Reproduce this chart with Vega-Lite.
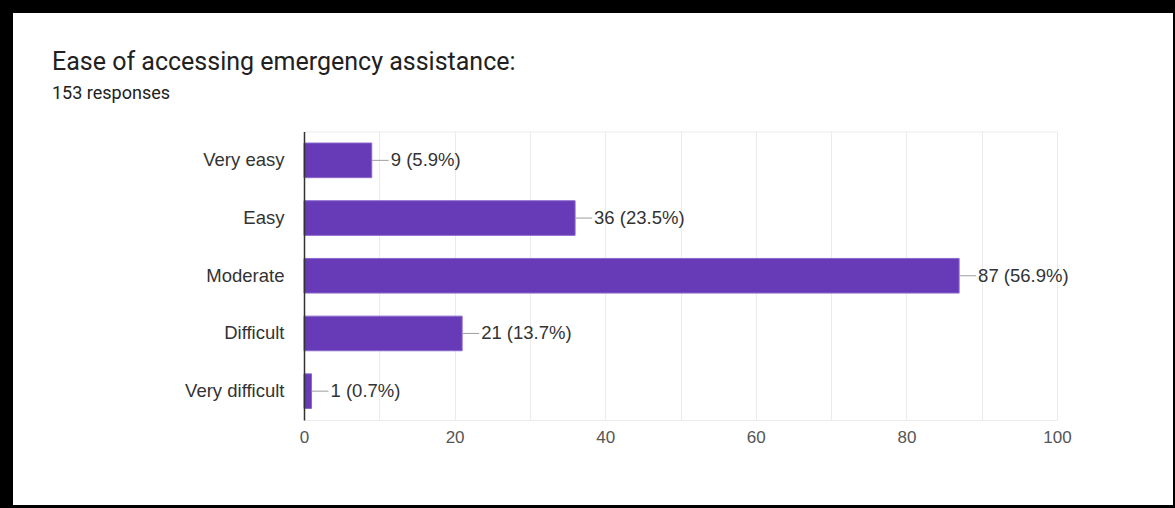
{
  "$schema": "https://vega.github.io/schema/vega-lite/v6.json",
  "width": 1160,
  "height": 492,
  "autosize": "none",
  "padding": {"left": 13, "top": 13, "right": 2, "bottom": 3},
  "background": "black",
  "config": {"view": {"fill": "white", "stroke": null}},
  "title": {
    "text": "Ease of accessing emergency assistance:",
    "subtitle": "153 responses",
    "anchor": "start",
    "frame": "group",
    "font": "Roboto",
    "fontSize": 25,
    "fontWeight": "normal",
    "color": "#212121",
    "subtitleFont": "Roboto",
    "subtitleFontSize": 18,
    "subtitleColor": "#212121",
    "subtitlePadding": 10,
    "offset": 0,
    "dx": 39,
    "dy": 90
  },
  "data": {
    "values": [
      {"category": "Very easy", "count": 9, "label": "9 (5.9%)"},
      {"category": "Easy", "count": 36, "label": "36 (23.5%)"},
      {"category": "Moderate", "count": 87, "label": "87 (56.9%)"},
      {"category": "Difficult", "count": 21, "label": "21 (13.7%)"},
      {"category": "Very difficult", "count": 1, "label": "1 (0.7%)"}
    ]
  },
  "encoding": {
    "y": {
      "field": "category",
      "type": "nominal",
      "sort": null,
      "scale": {"range": [118.5, 407], "paddingInner": 0.4, "paddingOuter": 0.2},
      "axis": {
        "title": null,
        "orient": "left",
        "offset": -291,
        "domainColor": "#333333",
        "domainWidth": 1.5,
        "ticks": false,
        "grid": false,
        "labelPadding": 20,
        "labelFont": "Liberation Sans",
        "labelFontSize": 18.5,
        "labelColor": "#333333",
        "zindex": 1
      }
    }
  },
  "layer": [
    {
      "mark": {"type": "bar", "fill": "#673ab7", "stroke": "#8a68cc", "strokeWidth": 1},
      "encoding": {
        "x": {
          "field": "count",
          "type": "quantitative",
          "scale": {"domain": [0, 100], "range": [291, 1044], "nice": false},
          "axis": {
            "title": null,
            "orient": "top",
            "offset": -407,
            "values": [0, 10, 20, 30, 40, 50, 60, 70, 80, 90, 100],
            "labelExpr": "datum.value % 20 === 0 ? datum.label : ''",
            "labelFlush": false,
            "labelOverlap": false,
            "grid": true,
            "gridColor": "#ebebeb",
            "domainColor": "#ebebeb",
            "ticks": false,
            "labelPadding": -26,
            "labelBaseline": "bottom",
            "labelFont": "Liberation Sans",
            "labelFontSize": 17,
            "labelColor": "#555555"
          }
        }
      }
    },
    {
      "mark": {"type": "rule", "color": "#9e9e9e", "strokeWidth": 1, "x2Offset": 17},
      "encoding": {
        "x": {
          "field": "count",
          "type": "quantitative",
          "axis": {
            "title": null,
            "orient": "top",
            "offset": -118.5,
            "labels": false,
            "ticks": false,
            "grid": false,
            "domainColor": "#ebebeb"
          }
        },
        "x2": {"field": "count"}
      }
    },
    {
      "mark": {"type": "text", "align": "left", "baseline": "middle", "dx": 19, "font": "Liberation Sans", "fontSize": 18.5, "color": "#333333"},
      "encoding": {
        "x": {"field": "count", "type": "quantitative", "axis": null},
        "text": {"field": "label", "type": "nominal"}
      }
    }
  ],
  "resolve": {"axis": {"x": "independent"}}
}
